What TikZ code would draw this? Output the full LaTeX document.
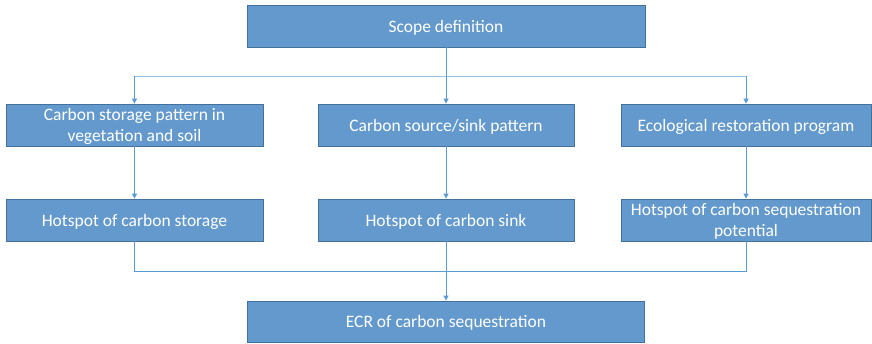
\documentclass[tikz,border=0pt]{standalone}
\usepackage{fontspec}
\setmainfont{Carlito}
\usetikzlibrary{arrows.meta}
\definecolor{boxfill}{HTML}{6399CC}
\definecolor{boxline}{HTML}{41719C}
\definecolor{conn}{HTML}{5B9BD5}
\definecolor{connlight}{HTML}{9DC3E6}
\begin{document}
\begin{tikzpicture}[x=1pt,y=-1pt,
  box/.style={draw=boxline, fill=boxfill, line width=0.8pt, text=white, align=center,
    minimum height=42pt, inner sep=2pt, text depth=0pt, font=\fontsize{17.5}{21}\selectfont},
  conn/.style={draw=conn, line width=0.9pt},
  arr/.style={conn, -{Triangle[length=5pt,width=5pt]}}]
\useasboundingbox (0,0) rectangle (872,343);
\node[box, minimum width=398pt] (scope) at (446,26) {Scope definition};
\node[box, minimum width=257pt] (a1) at (134.5,125) {Carbon storage pattern in\\vegetation and soil};
\node[box, minimum width=256pt] (a2) at (446,125) {Carbon source/sink pattern};
\node[box, minimum width=250pt] (a3) at (746,125) {Ecological restoration program};
\node[box, minimum width=257pt] (b1) at (134.5,220) {Hotspot of carbon storage};
\node[box, minimum width=256pt] (b2) at (446,220) {Hotspot of carbon sink};
\node[box, minimum width=250pt] (b3) at (746,220) {Hotspot of carbon sequestration\\potential};
\node[box, minimum width=397pt, minimum height=41pt] (ecr) at (446,321.5) {ECR of carbon sequestration};
\coordinate (tl) at (134.5,76);
\coordinate (tr) at (746,76);
\coordinate (bl) at (134.5,271);
\coordinate (br) at (746,271);
\draw[connlight, line width=0.9pt] (tl) -- (tr);
\draw[arr] (scope.south) -- (a2.north);
\draw[arr] (tl) -- (a1.north);
\draw[arr] (tr) -- (a3.north);
\draw[arr] (a1.south) -- (b1.north);
\draw[arr] (a2.south) -- (b2.north);
\draw[arr] (a3.south) -- (b3.north);
\draw[conn] (b1.south) -- (bl) -- (br) -- (b3.south);
\draw[arr] (b2.south) -- (ecr.north);
\end{tikzpicture}
\end{document}
